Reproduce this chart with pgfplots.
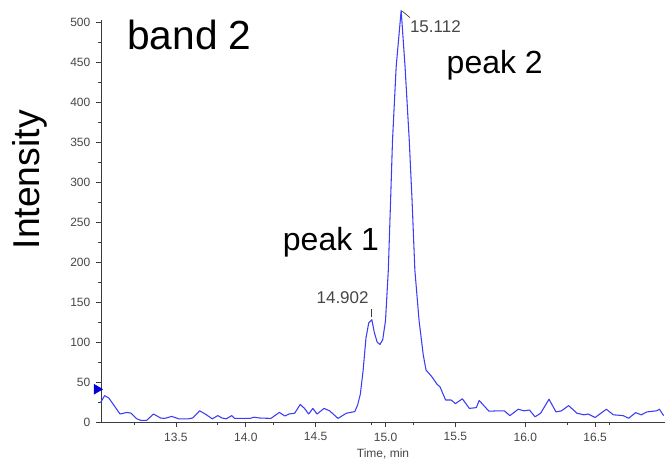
\documentclass[border=0pt]{standalone}
\usepackage{fontspec}
\setmainfont{Liberation Sans}
\usepackage{pgfplots}
\pgfplotsset{compat=1.18}
\definecolor{trace}{RGB}{60,60,245}
\definecolor{axisgray}{RGB}{60,60,60}
\definecolor{ticktext}{RGB}{70,70,70}

\begin{document}
\begin{tikzpicture}
\begin{axis}[
  scale only axis,
  width=423pt, height=301.5pt,
  xmin=12.964, xmax=17.0,
  ymin=0, ymax=503,
  clip=false,
  axis x line*=bottom, axis y line*=left,
  axis line style={axisgray, line width=0.7pt, -},
  xtick={13.5,14.0,14.5,15.0,15.5,16.0,16.5},
  xticklabels={13.5,14.0,14.5,15.0,15.5,16.0,16.5},
  minor xtick={13.2,13.8,14.2,14.9,15.2,16.3,16.6},
  ytick={0,50,...,500},
  minor ytick={25,75,...,475},
  tick align=outside,
  major tick length=3.5pt, minor tick length=2.5pt,
  tick style={axisgray, line width=0.6pt},
  tick label style={font=\fontsize{9}{10}\selectfont, text=ticktext},
  /pgf/number format/assume math mode=true,
  xticklabel style={yshift=-1pt},
  yticklabel style={xshift=-1pt},
  xlabel={Time, min},
  xlabel style={font=\fontsize{9}{10}\selectfont, text=ticktext, yshift=1pt},
]
% chromatogram trace
\addplot[trace, line width=0.8pt, line join=round] coordinates {
(12.96,24) (12.99,33) (13.02,30) (13.06,20) (13.10,10) (13.15,12) (13.18,11)
(13.22,4) (13.25,2) (13.29,2) (13.34,10) (13.39,5) (13.42,4.5) (13.47,7)
(13.52,4) (13.59,4) (13.62,5) (13.67,14) (13.71,10) (13.76,4) (13.80,8)
(13.83,5) (13.86,4) (13.90,8) (13.92,4.5) (13.98,4.5) (14.03,4.5) (14.06,6)
(14.10,5) (14.18,4.5) (14.24,12) (14.28,7.5) (14.31,10) (14.35,11) (14.39,22)
(14.42,17) (14.45,10) (14.48,17) (14.51,10) (14.56,17) (14.60,14) (14.66,4.5)
(14.72,11) (14.75,12) (14.78,13) (14.80,21) (14.82,35) (14.84,65) (14.86,105)
(14.88,124) (14.902,128) (14.92,112) (14.94,100) (14.96,97) (14.98,103)
(15.00,127) (15.02,190) (15.035,270) (15.05,352) (15.076,444) (15.112,515)
(15.14,444) (15.17,352) (15.19,277) (15.21,190) (15.24,127) (15.27,84)
(15.29,65) (15.33,57) (15.37,47) (15.39,44) (15.43,27.5) (15.47,27.5)
(15.50,23) (15.55,29) (15.60,17) (15.65,18) (15.67,27) (15.74,13.5)
(15.81,14) (15.85,14) (15.89,8) (15.95,16) (15.99,14) (16.03,15) (16.07,6.5)
(16.11,11) (16.17,28.5) (16.22,12.6) (16.26,14) (16.31,20.5) (16.37,11)
(16.42,9) (16.45,10) (16.50,5.6) (16.58,16) (16.63,9) (16.70,8) (16.74,4.7)
(16.79,11.7) (16.83,9) (16.87,12.6) (16.94,14) (16.96,16) (16.99,8)
};
% threshold marker on the intensity axis
\addplot[only marks, mark=triangle*, mark size=4.2pt,
  mark options={rotate=-90, fill=blue!85!black, draw=blue!85!black}]
  coordinates {(12.935,41)};

% peak annotations
\draw[axisgray, line width=0.5pt] (axis cs:14.902,131) -- (axis cs:14.902,141);
\draw[axisgray, line width=0.5pt] (axis cs:15.12,514) -- (axis cs:15.175,506);
\node[anchor=center, inner sep=0, text=ticktext, font=\fontsize{12.75}{14}\selectfont]
  at (axis cs:14.693,156) {14.902};
\node[anchor=center, inner sep=0, text=ticktext, font=\fontsize{12.75}{14}\selectfont]
  at (axis cs:15.357,495) {15.112};

% band and peak captions
\node[anchor=west, inner sep=0, font=\fontsize{30.5}{34}\selectfont]
  at (axis cs:13.15,484) {band 2};
\node[anchor=west, inner sep=0, font=\fontsize{24}{26}\selectfont]
  at (axis cs:14.264,225) {peak 1};
\node[anchor=west, inner sep=0, font=\fontsize{24}{26}\selectfont]
  at (axis cs:15.436,447) {peak 2};
\node[rotate=90, anchor=center, inner sep=0, font=\fontsize{28}{30}\selectfont]
  at (axis cs:12.457,303) {Intensity};

\coordinate (O) at (rel axis cs:0,0);
\end{axis}
\pgfresetboundingbox
\path[use as bounding box] ([xshift=-75.75pt,yshift=-28.5pt]O) rectangle ++(500.25pt,345pt);
\end{tikzpicture}
\end{document}
